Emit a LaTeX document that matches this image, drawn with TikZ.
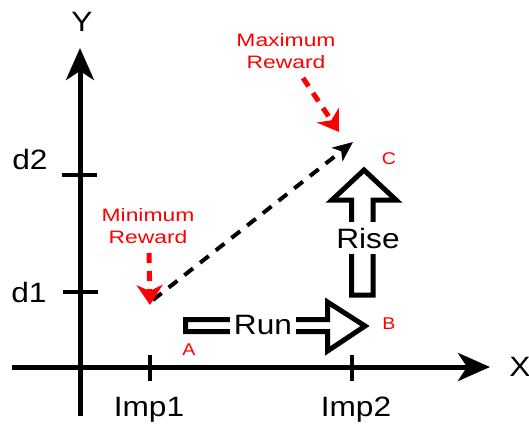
\documentclass[tikz,border=0pt]{standalone}
\usepackage{fontspec}
\setmainfont{Liberation Sans}
\usetikzlibrary{arrows.meta}
\begin{document}
\begin{tikzpicture}[x=1pt,y=-1pt,
  lbl/.style={font=\fontsize{28}{30}\selectfont, xscale=1.13, inner sep=0pt},
  rlbl/.style={font=\fontsize{18}{22}\selectfont, text=red, xscale=1.27, inner sep=0pt, align=center},
  ptlbl/.style={font=\fontsize{17}{19}\selectfont, text=red, xscale=1.15, inner sep=0pt},
  axisline/.style={line width=5pt, -{Stealth[length=32pt,width=28pt,inset=9pt]}},
  tickline/.style={line width=4pt},
  blockarrow/.style={line width=5pt, line join=miter, fill=white},
  reddash/.style={red, line width=5pt, dash pattern=on 10pt off 8pt, -{Stealth[length=20pt,width=26pt,inset=6pt]}},
  blackdash/.style={black, line width=4pt, dash pattern=on 11pt off 9pt, -{Stealth[length=20pt,width=17pt,inset=5pt]}},
  gap/.style={fill=white, inner sep=1pt, font=\fontsize{28}{30}\selectfont, xscale=1.13}
]
\useasboundingbox (0,0) rectangle (529,425);

% axes
\coordinate (xs) at (12,367);
\coordinate (xe) at (490,367);
\coordinate (ys) at (80,416);
\coordinate (ye) at (80,48);
\draw[axisline] (xs) -- (xe);
\draw[axisline] (ys) -- (ye);
\node[lbl] (ylab) at (82,22) {Y};
\node[lbl] (xlab) at (520,367) {X};

% ticks
\coordinate (t1a) at (150,355); \coordinate (t1b) at (150,381);
\coordinate (t2a) at (352,355); \coordinate (t2b) at (352,381);
\coordinate (d2a) at (62,175); \coordinate (d2b) at (97,175);
\coordinate (d1a) at (63,292); \coordinate (d1b) at (98,292);
\draw[tickline] (t1a) -- (t1b);
\draw[tickline] (t2a) -- (t2b);
\draw[tickline] (d2a) -- (d2b);
\draw[tickline] (d1a) -- (d1b);
\node[lbl] (imp1) at (149,410) {Imp1};
\node[lbl] (imp2) at (356,410) {Imp2};
\node[lbl] (d2lab) at (30,159) {d2};
\node[lbl] (d1lab) at (29,292) {d1};

% dashed black arrow
\coordinate (mins) at (153,300);
\coordinate (maxe) at (353,142);
\draw[blackdash] (mins) -- (maxe);

% red labels and arrows
\node[rlbl] (maxlab) at (286,51) {Maximum\\Reward};
\node[rlbl] (minlab) at (148,226) {Minimum\\Reward};
\coordinate (r1s) at (149,253); \coordinate (r1e) at (150,305);
\coordinate (r2s) at (303,78); \coordinate (r2e) at (339,132);
\draw[reddash] (r1s) -- (r1e);
\draw[reddash] (r2s) -- (r2e);

% Run block arrow
\draw[blockarrow] (185.5,319.5) -- (327.5,319.5) -- (327.5,302) -- (365,326) -- (327.5,351) -- (327.5,331.5) -- (185.5,331.5) -- cycle;
\node[gap, minimum width=58pt] (run) at (263,325) {Run};

% Rise block arrow
\draw[blockarrow] (351.5,295) -- (351.5,200) -- (332,200) -- (364,170) -- (396,200) -- (373,200) -- (373,295) -- cycle;
\node[gap, minimum height=32pt] (rise) at (368,238) {Rise};

% point labels
\node[ptlbl] (pa) at (189,350) {A};
\node[ptlbl] (pb) at (389,324) {B};
\node[ptlbl] (pc) at (389,159) {C};
\end{tikzpicture}
\end{document}
